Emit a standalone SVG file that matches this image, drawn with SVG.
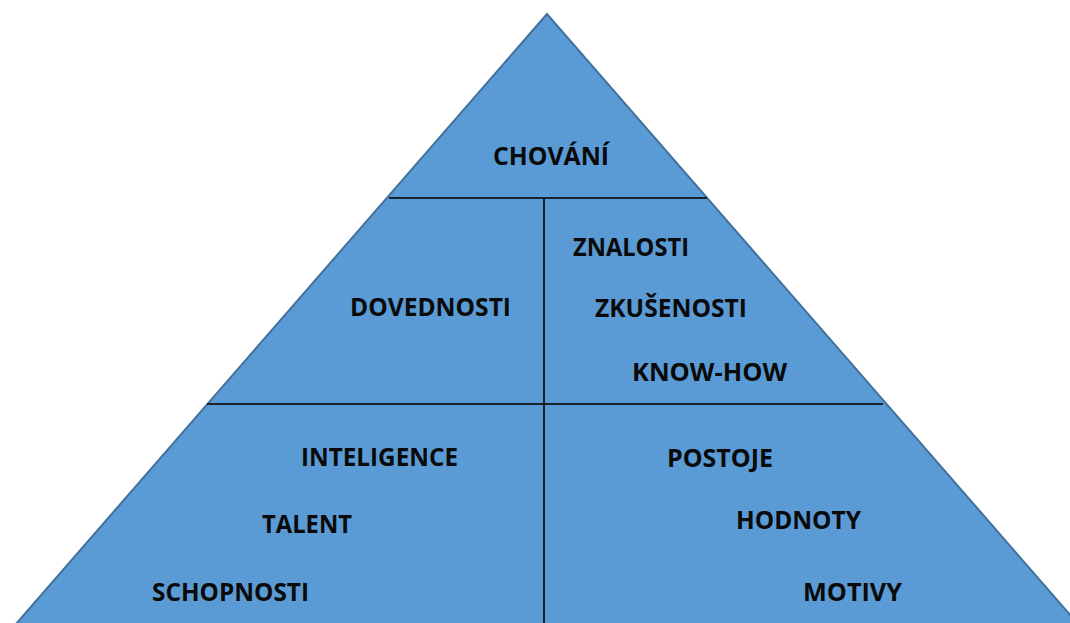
<svg xmlns="http://www.w3.org/2000/svg" width="1070" height="623" viewBox="0 0 1070 623">
  <style>
    .lbl { font-family: "Open Sans", "Liberation Sans", sans-serif; font-weight: 700; font-size: 25px; fill: #0a0a0a; }
    .div { stroke: #16222e; stroke-width: 2; fill: none; }
  </style>
  <rect width="1070" height="623" fill="#ffffff"/>

  <!-- pyramid body -->
  <g id="pyramid">
    <polygon points="547,14 2,640 1092,640" fill="#5b9bd5" stroke="#41719c" stroke-width="2" stroke-linejoin="miter"/>
  </g>

  <!-- dividing lines between levels -->
  <g id="dividers">
    <line class="div" x1="389" y1="198" x2="707" y2="198"/>
    <line class="div" x1="544" y1="198" x2="544" y2="623"/>
    <line class="div" x1="207" y1="404" x2="883" y2="404"/>
  </g>

  <g id="chovani"><text class="lbl" x="493" y="165" textLength="116" lengthAdjust="spacingAndGlyphs">CHOVÁNÍ</text></g>
  <g id="dovednosti"><text class="lbl" x="350" y="316" textLength="161" lengthAdjust="spacingAndGlyphs">DOVEDNOSTI</text></g>
  <g id="znalosti"><text class="lbl" x="573" y="256" textLength="116" lengthAdjust="spacingAndGlyphs">ZNALOSTI</text></g>
  <g id="zkusenosti"><text class="lbl" x="595" y="317" textLength="152" lengthAdjust="spacingAndGlyphs">ZKUŠENOSTI</text></g>
  <g id="knowhow"><text class="lbl" x="632" y="381" textLength="155" lengthAdjust="spacingAndGlyphs">KNOW-HOW</text></g>
  <g id="inteligence"><text class="lbl" x="301" y="466" textLength="157" lengthAdjust="spacingAndGlyphs">INTELIGENCE</text></g>
  <g id="talent"><text class="lbl" x="262" y="533" textLength="90" lengthAdjust="spacingAndGlyphs">TALENT</text></g>
  <g id="schopnosti"><text class="lbl" x="152" y="601" textLength="157" lengthAdjust="spacingAndGlyphs">SCHOPNOSTI</text></g>
  <g id="postoje"><text class="lbl" x="667" y="467" textLength="106" lengthAdjust="spacingAndGlyphs">POSTOJE</text></g>
  <g id="hodnoty"><text class="lbl" x="736" y="529" textLength="125" lengthAdjust="spacingAndGlyphs">HODNOTY</text></g>
  <g id="motivy"><text class="lbl" x="803" y="601" textLength="99" lengthAdjust="spacingAndGlyphs">MOTIVY</text></g>
</svg>
